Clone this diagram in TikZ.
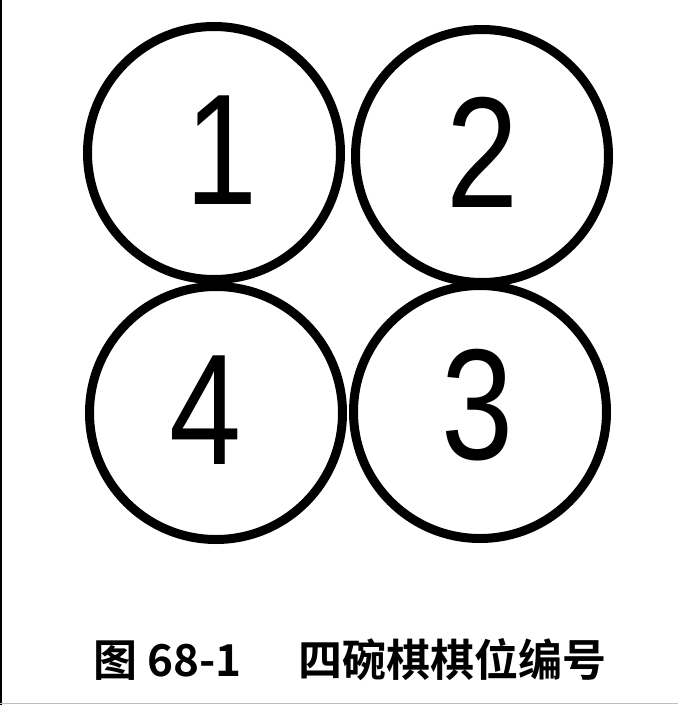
\documentclass[tikz,border=0pt]{standalone}
\usepackage{fontspec}
\setmainfont{Liberation Sans}
\newfontfamily\cjk{Noto Sans CJK SC Bold}
\usetikzlibrary{positioning}

\tikzset{
  bowl/.style={circle,draw=black,line width=9pt,minimum size=253pt,inner sep=0pt},
  digit/.style={inner sep=0pt,font=\fontsize{158}{158}\selectfont,xscale=.82}
}

\begin{document}
\begin{tikzpicture}[x=1pt,y=-1pt]
\useasboundingbox (0,0) rectangle (678,705);
\draw[line width=2pt] (1,0) -- (1,705);
\draw[gray!50,line width=1.5pt] (0,703.5) -- (678,703.5);

% the four bowls
\node[bowl] (b1) at (214,153) {};
\node[bowl] (b2) at (482,156) {};
\node[bowl] (b4) at (216,413) {};
\node[bowl] (b3) at (480,412) {};

\node[digit] (n1) at (222,150) {1};
\node[digit] (n2) at (483,152) {2};
\node[digit] (n4) at (206,410) {4};
\node[digit] (n3) at (478,405) {3};

\node[inner sep=0pt,font=\cjk\fontsize{44}{44}\selectfont] (cap) at (350,660)
  {图 68-1\hspace{1.3em}四碗棋棋位编号};
\end{tikzpicture}
\end{document}
